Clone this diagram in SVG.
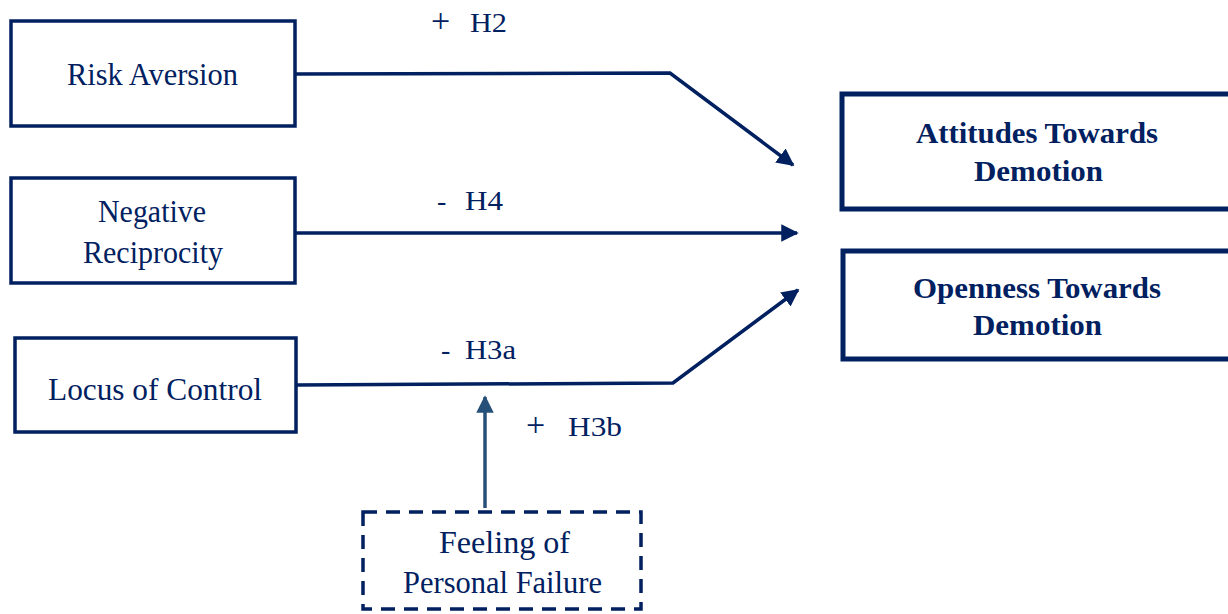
<svg xmlns="http://www.w3.org/2000/svg" width="1228" height="614" viewBox="0 0 1228 614">
<defs>
<style>
.box{fill:#fff;stroke:#002060;stroke-width:3.5}
.bbox{fill:#fff;stroke:#002060;stroke-width:5}
.dbox{fill:#fff;stroke:#002060;stroke-width:3.5;stroke-dasharray:14 9}
.t{font-family:"Liberation Serif","Times New Roman",serif;font-size:31px;fill:#002060}
.tb{font-family:"Liberation Serif","Times New Roman",serif;font-size:30px;font-weight:bold;fill:#002060}
.lbl{font-family:"Liberation Serif","Times New Roman",serif;font-size:28px;fill:#002060}
.sg{font-size:34px}
.c{fill:none;stroke:#002060;stroke-width:3.5}
.c2{fill:none;stroke:#265078;stroke-width:3.5}
</style>
<marker id="ah" viewBox="0 0 10 10" refX="9" refY="5" markerWidth="5" markerHeight="5" markerUnits="strokeWidth" orient="auto"><path d="M0,0 L10,5 L0,10 z" fill="#002060"/></marker>
<marker id="ah2" viewBox="0 0 10 10" refX="9" refY="5" markerWidth="5" markerHeight="5" markerUnits="strokeWidth" orient="auto"><path d="M0,0 L10,5 L0,10 z" fill="#265078"/></marker>
</defs>
<rect width="1228" height="614" fill="#fff"/>
<g id="connectors">
<polyline class="c" points="295,74 670,73 793,165" marker-end="url(#ah)"/>
<line class="c" x1="295" y1="233" x2="797" y2="233" marker-end="url(#ah)"/>
<polyline class="c" points="296,385 673,383 798,290" marker-end="url(#ah)"/>
<line class="c2" x1="485" y1="508" x2="485" y2="397" marker-end="url(#ah2)"/>
<text class="lbl" y="32"><tspan class="sg" x="431">+</tspan><tspan x="470" textLength="37" lengthAdjust="spacingAndGlyphs">H2</tspan></text>
<text class="lbl" y="210"><tspan x="437">-</tspan><tspan x="465" textLength="38" lengthAdjust="spacingAndGlyphs">H4</tspan></text>
<text class="lbl" y="359"><tspan x="441">-</tspan><tspan x="465" textLength="51" lengthAdjust="spacingAndGlyphs">H3a</tspan></text>
<text class="lbl" y="436"><tspan class="sg" x="526">+</tspan><tspan x="568" textLength="54" lengthAdjust="spacingAndGlyphs">H3b</tspan></text>
</g>
<g id="risk-aversion">
<rect class="box" x="11" y="21" width="284" height="105"/>
<text class="t" x="67" y="85" textLength="171" lengthAdjust="spacingAndGlyphs">Risk Aversion</text>
</g>
<g id="negative-reciprocity">
<rect class="box" x="11" y="178" width="284" height="105"/>
<text class="t" x="98" y="222" textLength="108" lengthAdjust="spacingAndGlyphs">Negative</text>
<text class="t" x="83" y="263" textLength="140" lengthAdjust="spacingAndGlyphs">Reciprocity</text>
</g>
<g id="locus-of-control">
<rect class="box" x="15" y="338" width="281" height="94"/>
<text class="t" x="48" y="400" textLength="214" lengthAdjust="spacingAndGlyphs">Locus of Control</text>
</g>
<g id="attitudes">
<rect class="bbox" x="842" y="94" width="390" height="115"/>
<text class="tb" x="916" y="143" textLength="242" lengthAdjust="spacingAndGlyphs">Attitudes Towards</text>
<text class="tb" x="974" y="181" textLength="129" lengthAdjust="spacingAndGlyphs">Demotion</text>
</g>
<g id="openness">
<rect class="bbox" x="843" y="251" width="389" height="108"/>
<text class="tb" x="913" y="298" textLength="248" lengthAdjust="spacingAndGlyphs">Openness Towards</text>
<text class="tb" x="973" y="335" textLength="129" lengthAdjust="spacingAndGlyphs">Demotion</text>
</g>
<g id="feeling-personal-failure">
<rect class="dbox" x="363" y="512" width="278" height="97"/>
<text class="t" x="439" y="553" textLength="131" lengthAdjust="spacingAndGlyphs">Feeling of</text>
<text class="t" x="403" y="593" textLength="199" lengthAdjust="spacingAndGlyphs">Personal Failure</text>
</g>
</svg>
